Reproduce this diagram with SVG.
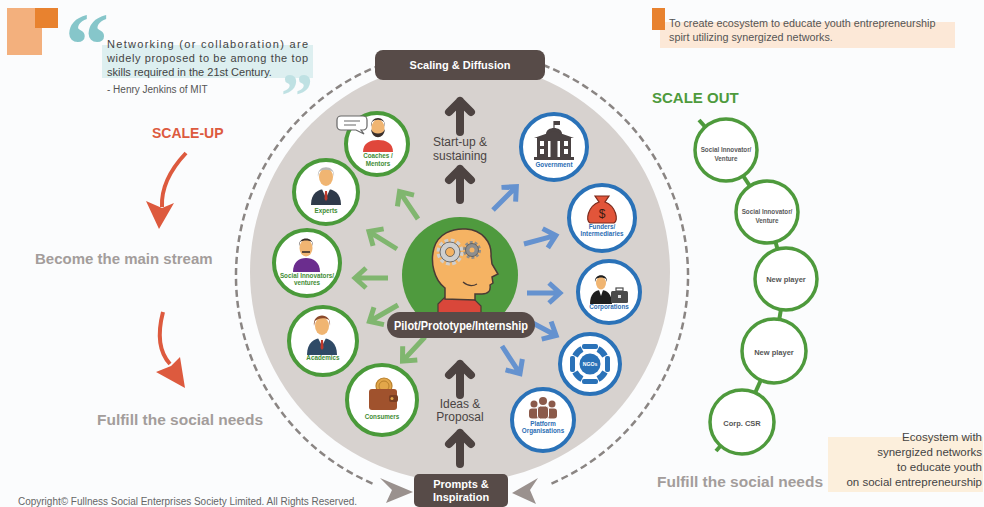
<svg xmlns="http://www.w3.org/2000/svg" width="984" height="507" viewBox="0 0 984 507">
<defs>
<style>
text{font-family:"Liberation Sans",Arial,sans-serif}
.bold{font-weight:bold}
.mid{text-anchor:middle}
.qm{font-family:"Liberation Serif","Times New Roman",serif;font-weight:bold}
.lg{font-weight:bold;font-size:6.3px;fill:#3F8C34;text-anchor:middle}
.lb{font-weight:bold;font-size:6.3px;fill:#2B6DB3;text-anchor:middle}
.gnode{fill:#fff;stroke:#4A9A3A;stroke-width:4}
.bnode{fill:#fff;stroke:#2A72B8;stroke-width:4}
.chain{fill:#fff;stroke:#4E9A3C;stroke-width:3.5}
.cht{font-weight:bold;font-size:6.3px;fill:#5a5a5a;text-anchor:middle}
.chb{font-weight:bold;font-size:7.5px;fill:#555;text-anchor:middle}
.garr{fill:none;stroke:#80B66F;stroke-width:5}
.barr{fill:none;stroke:#6592CF;stroke-width:5}
.darr{fill:none;stroke:#4D4341;stroke-width:8;stroke-linecap:round;stroke-linejoin:round}
.dash{fill:none;stroke:#8A8583;stroke-width:2.5;stroke-dasharray:7 4}
.box{fill:#574B48}
.boxt{fill:#fff;font-weight:bold;font-size:11px;text-anchor:middle}
.skin{fill:#F0B572}
.grey{font-weight:bold;fill:#A39D9B}
</style>
<path id="out" d="M0,0 H33 M22,-10 L33,0 L22,10"/>
</defs>

<rect width="984" height="507" fill="#FBFCFD"/>

<!-- quote block, top left -->
<g id="quote">
  <rect x="7" y="8" width="35" height="47" fill="#F3B07D"/>
  <rect x="35" y="8" width="23" height="20" fill="#E8822F"/>
  <rect x="102" y="45" width="211" height="33" fill="#DDEFF0"/>
  <text x="65" y="74" font-size="88" class="qm" fill="#86C6CA">“</text>
  <text x="281" y="117" font-size="64" class="qm" fill="#BFE1E3">”</text>
  <g font-size="11" fill="#444">
    <text x="107" y="48" textLength="201" lengthAdjust="spacing">Networking (or collaboration) are</text>
    <text x="107" y="62" textLength="201" lengthAdjust="spacing">widely proposed to be among the top</text>
    <text x="107" y="76">skills required in the 21st Century.</text>
    <text x="107" y="93" font-size="10" fill="#555">- Henry Jenkins of MIT</text>
  </g>
</g>

<!-- mission note, top right -->
<g id="mission">
  <rect x="660" y="22" width="295" height="26" fill="#FCE8D7"/>
  <rect x="652" y="8" width="13" height="22" fill="#E8822F"/>
  <text x="669" y="27" font-size="10.8" fill="#555">To create ecosystem to educate youth entrepreneurship</text>
  <text x="669" y="41" font-size="10.8" fill="#555">spirt utilizing synergized networks.</text>
</g>

<!-- scale-up column -->
<g id="scale-up">
  <text x="152" y="138" font-size="14" class="bold" fill="#DD5A3E">SCALE-UP</text>
  <path d="M186,153 C170,170 161,188 162,207" fill="none" stroke="#DD5A3E" stroke-width="4"/>
  <polygon points="146,201 162,208 174,203 159,229" fill="#DD5A3E"/>
  <text x="35" y="264" font-size="15" class="grey">Become the main stream</text>
  <path d="M163,312 C157,335 159,352 170,364" fill="none" stroke="#DD5A3E" stroke-width="4"/>
  <polygon points="156,372 171,366 180,357 185,388" fill="#DD5A3E"/>
  <text x="97" y="425" font-size="14" class="grey" textLength="166" lengthAdjust="spacingAndGlyphs">Fulfill the social needs</text>
</g>

<!-- central disc -->
<circle cx="460" cy="272" r="210" fill="#D7D2CF"/>

<!-- connectors -->
<g id="connectors">
  <path class="dash" d="M381,65 A226 226 0 0 0 376,485"/>
  <path class="dash" d="M543,65 A226 226 0 0 1 548,485"/>
  <polygon points="380,478 392,490 386,503 413,492" fill="#9A918E"/>
  <polygon points="538,478 530,490 536,504 512,493" fill="#9A918E"/>
  <path class="darr" d="M460,132 V101 M449,112 L460,101 L471,112"/>
  <path class="darr" d="M460,200 V169 M449,180 L460,169 L471,180"/>
  <path class="darr" d="M460,395 V364 M449,375 L460,364 L471,375"/>
  <path class="darr" d="M460,464 V433 M449,444 L460,433 L471,444"/>
  <use href="#out" class="garr" transform="translate(418,219) rotate(-124)"/>
  <use href="#out" class="garr" transform="translate(397,249) rotate(-148)"/>
  <use href="#out" class="garr" transform="translate(388,278) rotate(180)"/>
  <use href="#out" class="garr" transform="translate(398,305) rotate(150)"/>
  <use href="#out" class="garr" transform="translate(425,337) rotate(133)"/>
  <use href="#out" class="barr" transform="translate(493,210) rotate(-45)"/>
  <use href="#out" class="barr" transform="translate(524,244) rotate(-15)"/>
  <use href="#out" class="barr" transform="translate(527,293)"/>
  <use href="#out" class="barr" transform="translate(527,320) rotate(28)"/>
  <use href="#out" class="barr" transform="translate(502,346) rotate(57)"/>
  <!-- scale-out chain links -->
  <g stroke="#4E9A3C" stroke-width="4">
    <line x1="726" y1="150" x2="699" y2="120"/>
    <line x1="726" y1="150" x2="767" y2="212"/>
    <line x1="767" y1="212" x2="786" y2="279"/>
    <line x1="786" y1="279" x2="774" y2="351"/>
    <line x1="774" y1="351" x2="742" y2="422"/>
    <line x1="742" y1="422" x2="716" y2="451"/>
  </g>
</g>

<g id="scaling">
  <rect x="375" y="50" width="170" height="30" rx="8" class="box"/>
  <text x="460" y="69" class="boxt">Scaling &amp; Diffusion</text>
</g>
<g id="prompts">
  <rect x="414" y="474" width="94" height="33" rx="5" class="box"/>
  <text x="461" y="488" class="boxt">Prompts &amp;</text>
  <text x="461" y="501" class="boxt">Inspiration</text>
</g>

<g id="stage-labels" font-size="12" fill="#4A4443" text-anchor="middle">
  <text x="460" y="146">Start-up &amp;</text>
  <text x="460" y="160">sustaining</text>
  <text x="460" y="408">Ideas &amp;</text>
  <text x="460" y="421">Proposal</text>
</g>

<!-- centre: pilot -->
<g id="pilot">
  <circle cx="460" cy="275" r="58" fill="#4F9A3E"/>
  <path d="M438,304 L445,297 L474,299 L481,306 L481,314 L438,314 Z" fill="#D9473A" stroke="#4a3b35" stroke-width="1.2"/>
  <path d="M445,299 L445,288 C434,280 430,262 434,248 C438,234 452,228 466,229 C482,230 492,242 491,256 L492,264 L498,274 L492,277 L493,283 L490,285 C491,291 488,294 482,294 L475,294 L475,300 Z" fill="#F5B363" stroke="#4a3b35" stroke-width="1.5"/>
  <path d="M463,282 Q470,288 477,284" fill="none" stroke="#4a3b35" stroke-width="1.2"/>
  <circle cx="450" cy="252" r="11" fill="none" stroke="#CFCFCF" stroke-width="5" stroke-dasharray="3.5 2.3"/>
  <circle cx="450" cy="252" r="10" fill="#CFCFCF" stroke="#555" stroke-width="0.8"/>
  <circle cx="450" cy="252" r="4.5" fill="#F5B363" stroke="#555" stroke-width="0.8"/>
  <circle cx="472" cy="250" r="7" fill="none" stroke="#8E8E8E" stroke-width="4" stroke-dasharray="2.6 1.8"/>
  <circle cx="472" cy="250" r="6.5" fill="#8E8E8E" stroke="#555" stroke-width="0.8"/>
  <circle cx="472" cy="250" r="2.5" fill="#F5B363"/>
  <rect x="387" y="312" width="148" height="26" rx="13" class="box"/>
  <text x="394" y="329.5" font-size="12" class="bold" fill="#fff" textLength="134" lengthAdjust="spacingAndGlyphs">Pilot/Prototype/Internship</text>
</g>

<!-- people side (green) -->
<g id="coaches">
  <circle cx="377" cy="144" r="31" class="gnode"/>
  <path d="M363,152 C363,143 370,140 378,140 C386,140 393,143 393,152 Z" fill="#E0473B"/>
  <ellipse cx="378" cy="128" rx="6.5" ry="8.5" class="skin"/>
  <path d="M371,127 C370,115 386,115 385,127 L384,122 C381,119 375,119 372,122 Z" fill="#3A2F2B"/>
  <path d="M371,129 C372,140 384,140 385,129 C383,135 373,135 371,129 Z" fill="#3A2F2B"/>
  <path d="M341,116 h22 a4,4 0 0 1 4,4 v6 a4,4 0 0 1 -4,4 h-2 l3,4 l-8,-4 h-15 a4,4 0 0 1 -4,-4 v-6 a4,4 0 0 1 4,-4z" fill="#fff" stroke="#666" stroke-width="1.2"/>
  <path d="M344,121 h16 M344,125 h12" stroke="#9a9a9a" stroke-width="1.5"/>
  <text x="378" y="158" class="lg">Coaches /</text>
  <text x="378" y="165.5" class="lg">Mentors</text>
</g>
<g id="experts">
  <circle cx="326" cy="192" r="32" class="gnode"/>
  <path d="M311,205 C311,193 318,189 326,189 C334,189 341,193 341,205 Z" fill="#2F3A4A"/>
  <path d="M322,189 L326,198 L330,189 Z" fill="#fff"/>
  <path d="M325,191 L327,191 L327.5,199 L326,201 L324.5,199 Z" fill="#C0392B"/>
  <ellipse cx="326" cy="177" rx="7" ry="9" class="skin"/>
  <path d="M318,177 C316,164 336,164 334,177 L333,172 C330,169 322,169 319,172 Z" fill="#B9B9B9"/>
  <text x="326" y="213" class="lg">Experts</text>
</g>
<g id="social-innovators">
  <circle cx="307" cy="263" r="33" class="gnode"/>
  <path d="M293,272 C293,262 299,258 306,258 C313,258 320,262 320,272 Z" fill="#6B2D8E"/>
  <ellipse cx="306" cy="248" rx="6.5" ry="8.5" class="skin"/>
  <path d="M299,246 C298,236 314,236 313,246 L312,242 C309,240 303,240 300,242 Z" fill="#3A2F2B"/>
  <path d="M302,252 h8" stroke="#3A2F2B" stroke-width="1.6"/>
  <text x="307" y="277.5" class="lg">Social Innovators/</text>
  <text x="307" y="285" class="lg">ventures</text>
</g>
<g id="academics">
  <circle cx="323" cy="341" r="34" class="gnode"/>
  <path d="M307,355 C307,343 314,338 322,338 C330,338 337,343 337,355 Z" fill="#2F4A66"/>
  <path d="M318,338 L322,346 L326,338 Z" fill="#fff"/>
  <path d="M321,340 L323,340 L323.5,348 L322,350 L320.5,348 Z" fill="#C0392B"/>
  <ellipse cx="322" cy="326" rx="7" ry="9" class="skin"/>
  <path d="M314,326 C312,312 332,312 330,326 L329,320 C325,317 318,318 315,321 Z" fill="#8B4A2B"/>
  <text x="323" y="360" class="lg">Academics</text>
</g>
<g id="consumers">
  <circle cx="382" cy="400" r="35" class="gnode"/>
  <circle cx="384" cy="386" r="8" fill="#E3A74A" stroke="#B9802C" stroke-width="1.2"/>
  <circle cx="384" cy="386" r="5" fill="none" stroke="#B9802C" stroke-width="1"/>
  <rect x="369" y="389" width="28" height="21" rx="3" fill="#A0522D"/>
  <rect x="389" y="395" width="9" height="7" rx="2" fill="#7A3E22"/>
  <circle cx="392" cy="398.5" r="1.5" fill="#E3A74A"/>
  <text x="382" y="418.5" class="lg">Consumers</text>
</g>

<!-- organisations side (blue) -->
<g id="government">
  <circle cx="554" cy="147" r="33" class="bnode"/>
  <g fill="#4A4242">
    <line x1="554" y1="121" x2="554" y2="129" stroke="#4A4242" stroke-width="1.2"/>
    <rect x="554" y="121" width="6" height="4"/>
    <path d="M546,134 C546,126 562,126 562,134 Z"/>
    <polygon points="534,138 554,131 574,138"/>
    <rect x="537" y="138" width="34" height="19"/>
    <rect x="534" y="157" width="40" height="3"/>
  </g>
  <g fill="#fff">
    <rect x="540" y="141" width="4" height="5"/><rect x="564" y="141" width="4" height="5"/>
    <rect x="540" y="149" width="4" height="5"/><rect x="564" y="149" width="4" height="5"/>
    <rect x="548" y="141" width="2.5" height="16"/><rect x="557.5" y="141" width="2.5" height="16"/>
  </g>
  <text x="554" y="167" class="lb">Government</text>
</g>
<g id="funders">
  <circle cx="602" cy="218" r="33" class="bnode"/>
  <path d="M595,196 L609,196 L605,202 C616,206 619,221 614,223 L590,223 C585,221 588,206 599,202 Z" fill="#E2553A" stroke="#7a2a1c" stroke-width="1.2"/>
  <text x="602" y="218" font-size="12" fill="#3a1a12" class="mid">$</text>
  <text x="602" y="229" class="lb">Funders/</text>
  <text x="602" y="236" class="lb">Intermediaries</text>
</g>
<g id="corporations">
  <circle cx="609" cy="292" r="31" class="bnode"/>
  <path d="M590,304 C590,294 595,290 601,290 C607,290 612,294 612,304 Z" fill="#1E1E1E"/>
  <path d="M599,290 L601,296 L603,290 Z" fill="#fff"/>
  <ellipse cx="601" cy="283" rx="5" ry="6.5" class="skin"/>
  <path d="M595,282 C594,273 608,273 607,282 L606,279 C603,277 599,277 596,279 Z" fill="#1E1E1E"/>
  <rect x="611" y="291" width="17" height="12" rx="1.5" fill="#4A4A4A"/>
  <rect x="616" y="288" width="7" height="3" fill="none" stroke="#4A4A4A" stroke-width="1.2"/>
  <rect x="618" y="295" width="3" height="3" fill="#ddd"/>
  <text x="609" y="309" class="lb">Corporations</text>
</g>
<g id="ngos">
  <circle cx="590" cy="364" r="30" class="bnode"/>
  <g fill="none" stroke="#2A72B8" stroke-width="6">
    <path d="M575,356 A17 17 0 0 1 582,349"/>
    <path d="M598,349 A17 17 0 0 1 605,356"/>
    <path d="M605,372 A17 17 0 0 1 598,379"/>
    <path d="M582,379 A17 17 0 0 1 575,372"/>
  </g>
  <g fill="#2A72B8">
    <rect x="582" y="344" width="16" height="5" rx="2"/>
    <rect x="582" y="379" width="16" height="5" rx="2"/>
    <rect x="570" y="356" width="5" height="16" rx="2"/>
    <rect x="605" y="356" width="5" height="16" rx="2"/>
    <circle cx="590" cy="364" r="10.5"/>
  </g>
  <text x="590" y="366" font-size="5.2" class="bold mid" fill="#fff">NGOs</text>
</g>
<g id="platform">
  <circle cx="543" cy="420" r="31" class="bnode"/>
  <g fill="#8B5A4A">
    <circle cx="534" cy="404" r="3.5"/><circle cx="552" cy="404" r="3.5"/><circle cx="543" cy="401" r="4"/>
    <rect x="529" y="408.5" width="10" height="10" rx="3"/>
    <rect x="547" y="408.5" width="10" height="10" rx="3"/>
    <rect x="537.5" y="406" width="11" height="13" rx="3" stroke="#fff" stroke-width="1"/>
  </g>
  <text x="543" y="426" class="lb">Platform</text>
  <text x="543" y="433" class="lb">Organisations</text>
</g>

<!-- scale-out chain -->
<g id="scale-out">
  <text x="652" y="103" font-size="15" class="bold" fill="#4E9A3C">SCALE OUT</text>
  <g id="venture-1">
    <circle cx="726" cy="150" r="31" class="chain"/>
    <text x="726" y="152" class="cht">Social Innovator/</text>
    <text x="726" y="161" class="cht">Venture</text>
  </g>
  <g id="venture-2">
    <circle cx="767" cy="212" r="31" class="chain"/>
    <text x="767" y="214" class="cht">Social Innovator/</text>
    <text x="767" y="223" class="cht">Venture</text>
  </g>
  <g id="new-player-1">
    <circle cx="786" cy="279" r="31" class="chain"/>
    <text x="786" y="282" class="chb">New player</text>
  </g>
  <g id="new-player-2">
    <circle cx="774" cy="351" r="32" class="chain"/>
    <text x="774" y="355" class="chb">New player</text>
  </g>
  <g id="corp-csr">
    <circle cx="742" cy="422" r="32" class="chain"/>
    <text x="742" y="426" class="chb">Corp. CSR</text>
  </g>
</g>

<g id="outcome">
  <rect x="828" y="437" width="155" height="55" fill="#FCEFDC"/>
  <g font-size="11.5" fill="#444" text-anchor="end">
    <text x="982" y="441">Ecosystem with</text>
    <text x="982" y="456">synergized networks</text>
    <text x="982" y="471">to educate youth</text>
    <text x="982" y="486">on social entrepreneurship</text>
  </g>
  <text x="657" y="487" font-size="14" class="grey" textLength="166" lengthAdjust="spacingAndGlyphs">Fulfill the social needs</text>
</g>

<text x="18" y="505" font-size="10" fill="#666" textLength="339" lengthAdjust="spacingAndGlyphs">Copyright© Fullness Social Enterprises Society Limited. All Rights Reserved.</text>
</svg>
